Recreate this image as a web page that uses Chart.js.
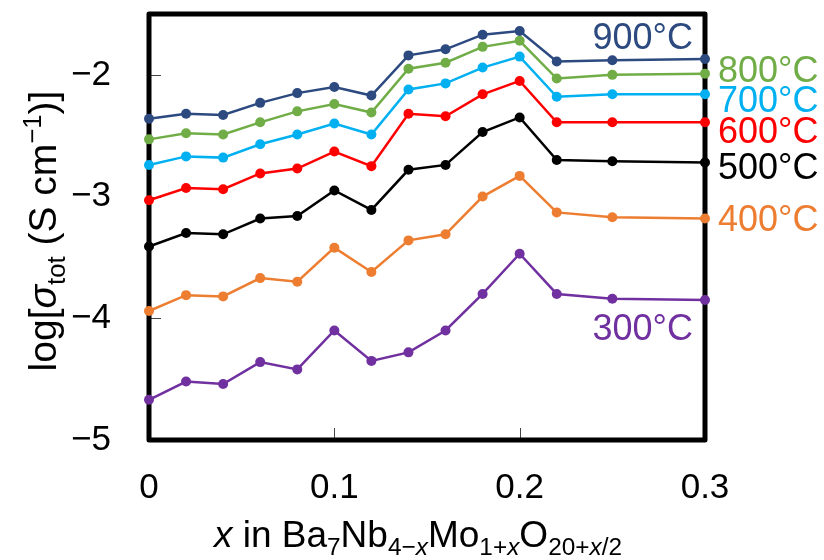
<!DOCTYPE html>
<html>
<head>
<meta charset="utf-8">
<script src="https://cdn.jsdelivr.net/npm/chart.js@4.4.1/dist/chart.umd.min.js"></script>
<style>
  html, body { margin: 0; padding: 0; background: #fff; }
  #wrap { width: 824px; height: 560px; }
</style>
</head>
<body>
<div id="wrap"><canvas id="chart" width="824" height="560"></canvas></div>
<script>
// x = Mo content in Ba7Nb4-xMo1+xO20+x/2
const xValues = [0, 0.02, 0.04, 0.06, 0.08, 0.10, 0.12, 0.14, 0.16, 0.18, 0.20, 0.22, 0.25, 0.30];

// log(sigma_tot), one array per temperature
const t900 = [-2.36, -2.32, -2.33, -2.23, -2.15, -2.10, -2.17, -1.84, -1.79, -1.67, -1.64, -1.89, -1.88, -1.87];
const t800 = [-2.53, -2.48, -2.49, -2.39, -2.30, -2.24, -2.31, -1.95, -1.90, -1.77, -1.72, -2.03, -2.00, -1.99];
const t700 = [-2.74, -2.67, -2.68, -2.57, -2.49, -2.40, -2.49, -2.12, -2.07, -1.94, -1.85, -2.18, -2.16, -2.16];
const t600 = [-3.03, -2.93, -2.94, -2.81, -2.77, -2.63, -2.75, -2.32, -2.34, -2.16, -2.05, -2.39, -2.39, -2.39];
const t500 = [-3.41, -3.30, -3.31, -3.18, -3.16, -2.95, -3.11, -2.78, -2.74, -2.47, -2.35, -2.70, -2.71, -2.72];
const t400 = [-3.94, -3.81, -3.82, -3.67, -3.70, -3.42, -3.62, -3.36, -3.31, -3.00, -2.83, -3.13, -3.17, -3.18];
const t300 = [-4.67, -4.52, -4.54, -4.36, -4.42, -4.10, -4.35, -4.28, -4.10, -3.80, -3.47, -3.80, -3.84, -3.85];

const seriesNames = ['900°C', '800°C', '700°C', '600°C', '500°C', '400°C', '300°C'];
const seriesData = [t900, t800, t700, t600, t500, t400, t300];
const seriesColors = ['#2C4A80', '#70AD47', '#00B0F0', '#FF0000', '#000000', '#ED7D31', '#7030A0'];

const xTicks = [0, 0.1, 0.2, 0.3];
const yTicks = [-5, -4, -3, -2];

// where each temperature label sits (data coords, y = middle of the digits)
const labelAnchors = [
  { x: 0.2935, y: -1.68, align: 'right' },
  { x: 0.307, y: -1.95, align: 'left' },
  { x: 0.307, y: -2.20, align: 'left' },
  { x: 0.307, y: -2.45, align: 'left' },
  { x: 0.307, y: -2.75, align: 'left' },
  { x: 0.307, y: -3.18, align: 'left' },
  { x: 0.2935, y: -4.07, align: 'right' }
];

const FONT = "'Liberation Sans', Arial, sans-serif";
const TICK_SIZE = 35;
const LABEL_SIZE = 36;
const TITLE_SIZE = 37;
const YTITLE_SIZE = 39;

// draw text made of pieces (italic / subscript / superscript)
function richWidth(ctx, parts, size) {
  let w = 0;
  parts.forEach(p => {
    const s = p.sub || p.sup ? size * 0.66 : size;
    ctx.font = (p.it ? 'italic ' : '') + s + 'px ' + FONT;
    w += ctx.measureText(p.t).width;
  });
  return w;
}
function drawRich(ctx, parts, x, y, size) {
  let cx = x;
  parts.forEach(p => {
    const s = p.sub || p.sup ? size * 0.66 : size;
    ctx.font = (p.it ? 'italic ' : '') + s + 'px ' + FONT;
    let dy = 0;
    if (p.sub) dy = size * 0.22;
    if (p.sup) dy = -size * 0.38;
    ctx.fillText(p.t, cx, y + dy);
    cx += ctx.measureText(p.t).width;
  });
}

const yTitle = [
  { t: 'log[' }, { t: 'σ', it: true }, { t: 'tot', sub: true },
  { t: ' (S cm' }, { t: '−1', sup: true }, { t: ')]' }
];
const xTitle = [
  { t: 'x', it: true }, { t: ' in Ba' }, { t: '7', sub: true }, { t: 'Nb' },
  { t: '4−', sub: true }, { t: 'x', sub: true, it: true }, { t: 'Mo' },
  { t: '1+', sub: true }, { t: 'x', sub: true, it: true }, { t: 'O' },
  { t: '20+', sub: true }, { t: 'x', sub: true, it: true }, { t: '/2', sub: true }
];

// thick frame + small inward ticks, drawn under the data
const framePlugin = {
  id: 'frame',
  beforeDatasetsDraw(chart) {
    const { ctx, chartArea: a, scales } = chart;
    ctx.save();
    ctx.strokeStyle = '#444';
    ctx.lineWidth = 1;
    yTicks.forEach(v => {
      const py = Math.round(scales.y.getPixelForValue(v)) + 0.5;
      ctx.beginPath();
      ctx.moveTo(a.left, py);
      ctx.lineTo(a.left + 12, py);
      ctx.stroke();
    });
    xTicks.forEach(v => {
      const px = Math.round(scales.x.getPixelForValue(v)) + 0.5;
      ctx.beginPath();
      ctx.moveTo(px, a.bottom);
      ctx.lineTo(px, a.bottom - 12);
      ctx.stroke();
    });
    ctx.strokeStyle = '#000';
    ctx.lineWidth = 5;
    ctx.lineJoin = 'round';
    ctx.strokeRect(a.left, a.top, a.right - a.left, a.bottom - a.top);
    ctx.restore();
  },
  afterDraw(chart) {
    const { ctx, scales } = chart;
    ctx.save();
    ctx.textBaseline = 'alphabetic';
    // temperature labels
    ctx.font = LABEL_SIZE + 'px ' + FONT;
    labelAnchors.forEach((l, i) => {
      ctx.fillStyle = seriesColors[i];
      ctx.textAlign = l.align;
      const px = scales.x.getPixelForValue(l.x);
      const py = scales.y.getPixelForValue(l.y) + LABEL_SIZE * 0.358;
      ctx.fillText(seriesNames[i], px, py);
    });
    ctx.fillStyle = '#000';
    ctx.textAlign = 'left';
    // x title
    const wx = richWidth(ctx, xTitle, TITLE_SIZE);
    drawRich(ctx, xTitle, 418 - wx / 2, 547, TITLE_SIZE);
    // y title, rotated
    const wy = richWidth(ctx, yTitle, YTITLE_SIZE);
    ctx.translate(56, 231);
    ctx.rotate(-Math.PI / 2);
    drawRich(ctx, yTitle, -wy / 2, 0, YTITLE_SIZE);
    ctx.restore();
  }
};

const datasets = seriesData.map((vals, i) => ({
  label: seriesNames[i],
  data: xValues.map((x, j) => ({ x: x, y: vals[j] })),
  borderColor: seriesColors[i],
  backgroundColor: seriesColors[i],
  borderWidth: 2.5,
  pointRadius: 5,
  pointBorderWidth: 0,
  pointBackgroundColor: seriesColors[i],
  tension: 0,
  clip: false
}));

new Chart(document.getElementById('chart').getContext('2d'), {
  type: 'line',
  data: { datasets: datasets },
  options: {
    responsive: false,
    animation: false,
    devicePixelRatio: 1,
    layout: { padding: { left: 0, right: 119, top: 14, bottom: 0 } },
    plugins: { legend: { display: false }, tooltip: { enabled: false } },
    scales: {
      x: {
        type: 'linear',
        min: 0,
        max: 0.3,
        grid: { display: false, drawTicks: false },
        border: { display: false },
        afterBuildTicks: s => { s.ticks = xTicks.map(v => ({ value: v })); },
        afterFit: s => { s.height = 120; s.paddingLeft = 0; s.paddingRight = 0; },
        ticks: {
          color: '#000',
          padding: 27,
          maxRotation: 0,
          font: { family: FONT, size: TICK_SIZE },
          callback: v => (v === 0 ? '0' : v.toFixed(1))
        }
      },
      y: {
        type: 'linear',
        min: -5,
        max: -1.5,
        grid: { display: false, drawTicks: false },
        border: { display: false },
        afterBuildTicks: s => { s.ticks = yTicks.map(v => ({ value: v })); },
        afterFit: s => { s.width = 149; s.paddingTop = 0; s.paddingBottom = 0; },
        ticks: {
          color: '#000',
          padding: 38,
          font: { family: FONT, size: TICK_SIZE },
          callback: v => '−' + Math.abs(v)
        }
      }
    }
  },
  plugins: [framePlugin]
});
</script>
</body>
</html>
